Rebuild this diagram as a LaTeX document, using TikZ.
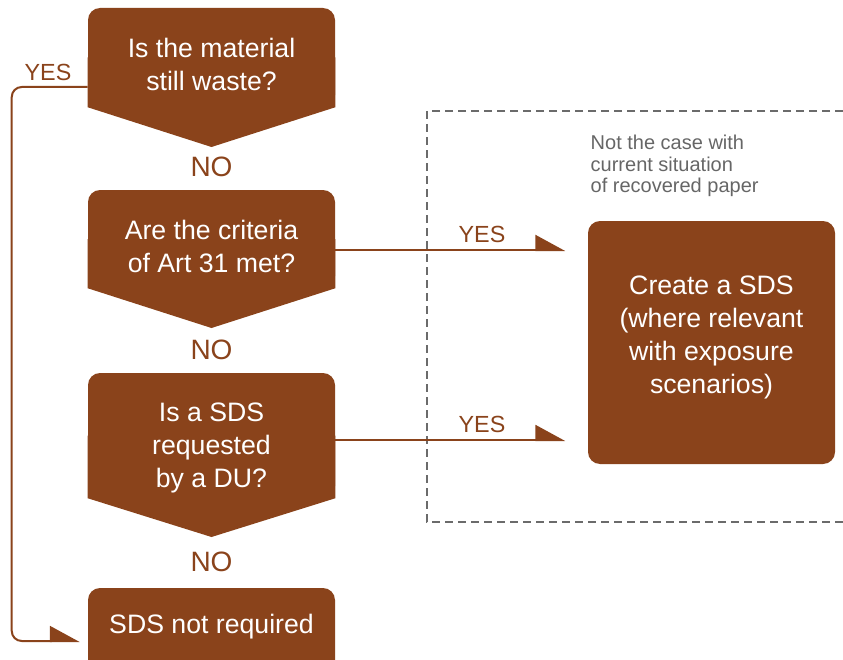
\documentclass[tikz,border=0pt]{standalone}
\usepackage{fontspec}
\setmainfont{Liberation Sans}
\usetikzlibrary{arrows.meta,calc}
\definecolor{brn}{HTML}{8A431B}
\definecolor{dgray}{HTML}{6B6B6B}
\definecolor{tgray}{HTML}{666666}
\begin{document}
\begin{tikzpicture}[x=0.75pt,y=-0.75pt,
  box/.style={fill=brn,rounded corners=9pt,minimum width=185.25pt,inner sep=0pt},
  btext/.style={text=white,font=\fontsize{20}{24.75}\selectfont,align=center},
  yes/.style={text=brn,font=\fontsize{17.5}{20}\selectfont},
  nolab/.style={text=brn,font=\fontsize{21}{24}\selectfont},
  conn/.style={draw=brn,line width=1.5pt,-{Triangle[length=21pt,width=22.5pt,left,fill=brn]}},
  dashline/.style={draw=dgray,line width=1.5pt,dash pattern=on 6pt off 3.75pt},
  note/.style={text=tgray,font=\fontsize{15}{16}\selectfont,align=left}
]
\useasboundingbox (0,0) rectangle (843,660);
\clip (0,0) rectangle (843,660);

% dashed region
\draw[dashline] (843,111) -- (427,111) -- (427,522) -- (843,522);
\node[note,anchor=west] (nt) at (586,166) {Not the case with\\current situation\\of recovered paper};

% decision 1
\node[box,minimum height=74.25pt] (q1) at (211.5,57.5) {};
\coordinate (t1) at (211.5,147);
\fill[brn] (q1.west) -- (q1.south west) -- (t1) -- (q1.south east) -- (q1.east) -- cycle;
\node[btext] (q1t) at (211.5,64) {Is the material\\still waste?};

% decision 2
\node[box,minimum height=73.5pt] (q2) at (211.5,239) {};
\coordinate (t2) at (211.5,328);
\fill[brn] (q2.west) -- (q2.south west) -- (t2) -- (q2.south east) -- (q2.east) -- cycle;
\node[btext] (q2t) at (211.5,246) {Are the criteria\\of Art 31 met?};

% decision 3
\node[box,minimum height=93.75pt] (q3) at (211.5,435.5) {};
\coordinate (t3) at (211.5,537);
\fill[brn] (q3.west) -- (q3.south west) -- (t3) -- (q3.south east) -- (q3.east) -- cycle;
\node[btext] (q3t) at (211.5,448) {Is a SDS\\requested\\by a DU?};

% end box
\node[box,minimum height=69pt] (e) at (211.5,634) {};
\node[btext] (et) at (211.5,627) {SDS not required};

% create box
\node[box,minimum height=182.25pt] (cr) at (711.5,342.5) {};
\node[btext] (crt) at (711.5,337) {Create a SDS\\(where relevant\\with exposure\\scenarios)};

% labels
\node[nolab] (n1) at (211.5,167) {NO};
\node[nolab] (n2) at (211.5,350) {NO};
\node[nolab] (n3) at (211.5,562) {NO};
\node[yes] (y0) at (48,72) {YES};
\node[yes] (y1) at (482,234) {YES};
\node[yes] (y2) at (482,424) {YES};

% connectors
\draw[conn] ([yshift=-8.25pt]q2.east) -- ++(230,0);
\draw[conn] ([yshift=-3.375pt]q3.east) -- ++(230,0);
\draw[conn,rounded corners=7.5pt] ([yshift=-22.125pt]q1.west) -- ++(-76,0) |- ([xshift=-6pt,yshift=-5.25pt]e.west);
\end{tikzpicture}
\end{document}
